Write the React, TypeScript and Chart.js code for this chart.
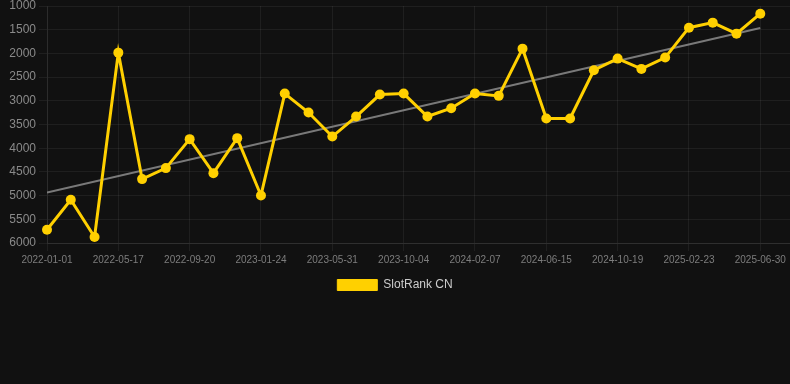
import React, { useEffect, useRef } from "react";
import { Chart, registerables } from "chart.js";

Chart.register(...registerables);

const dateLabels: string[] = [
  "2022-01-01", "2022-02-15", "2022-03-31", "2022-05-17", "2022-06-28", "2022-08-09",
  "2022-09-20", "2022-11-01", "2022-12-13", "2023-01-24", "2023-03-07", "2023-04-19",
  "2023-05-31", "2023-07-12", "2023-08-23", "2023-10-04", "2023-11-15", "2023-12-27",
  "2024-02-07", "2024-03-20", "2024-05-03", "2024-06-15", "2024-07-27", "2024-09-07",
  "2024-10-19", "2024-11-30", "2025-01-11", "2025-02-23", "2025-04-06", "2025-05-18",
  "2025-06-30",
];

const rankValues: number[] = [
  5720, 5088, 5874, 1984, 4652, 4420, 3809, 4526, 3788, 4997, 2847,
  3248, 3754, 3332, 2868, 2847, 3332, 3156, 2847, 2896, 1900, 3374,
  3374, 2355, 2110, 2327, 2088, 1457, 1351, 1583, 1162,
];

const trendStart = 4933;
const trendEnd = 1464;

const yTicksMin = 1000;
const yTicksMax = 6000;
const yStep = 500;
const labelEvery = 3;

const seriesName = "SlotRank CN";

export default function App() {
  const ref = useRef<HTMLCanvasElement | null>(null);

  useEffect(() => {
    document.documentElement.style.background = "#111111";
    document.body.style.margin = "0";
    document.body.style.background = "#111111";
    if (!ref.current) return;
    Chart.defaults.font.family = "'Liberation Sans', Arial, Helvetica, sans-serif";
    const lastIdx = rankValues.length - 1;
    const chart = new Chart(ref.current, {
      type: "line",
      data: {
        datasets: [
          {
            label: seriesName,
            data: rankValues.map((v, i) => ({ x: i, y: v })),
            borderColor: "#ffd000",
            backgroundColor: "#ffd000",
            borderWidth: 3,
            pointRadius: 5,
            pointHoverRadius: 5,
            pointBackgroundColor: "#ffd000",
            pointBorderColor: "#ffd000",
            pointBorderWidth: 0,
            tension: 0,
            clip: false,
            order: 1,
          },
          {
            label: "trend",
            data: [
              { x: 0, y: trendStart },
              { x: lastIdx, y: trendEnd },
            ],
            borderColor: "rgba(140,140,140,0.85)",
            backgroundColor: "rgba(140,140,140,0.85)",
            borderWidth: 2,
            pointRadius: 0,
            order: 2,
          },
        ],
      },
      options: {
        animation: false,
        responsive: false,
        devicePixelRatio: 1,
        layout: { padding: 0, autoPadding: false },
        scales: {
          x: {
            type: "linear",
            min: 0,
            max: 31.25,
            afterFit: (s: any) => {
              s.paddingRight = 0;
              s.paddingLeft = 0;
            },
            grid: { color: "rgba(255,255,255,0.06)", tickLength: 8 },
            border: { color: "rgba(255,255,255,0.08)" },
            ticks: {
              stepSize: labelEvery,
              includeBounds: false,
              autoSkip: false,
              maxRotation: 0,
              color: "#7d7d7d",
              font: { size: 10 },
              callback: (v: any) => {
                const n = Number(v);
                return Number.isInteger(n) && dateLabels[n] ? dateLabels[n] : "";
              },
            },
          },
          y: {
            reverse: true,
            min: yTicksMin,
            max: yTicksMax,
            afterFit: (s: any) => {
              s.width = 47;
              s.paddingTop = 6;
            },
            grid: { color: "rgba(255,255,255,0.06)", tickLength: 8 },
            border: { color: "rgba(255,255,255,0.06)" },
            ticks: {
              stepSize: yStep,
              color: "#8a8a8a",
              font: { size: 12 },
              callback: (v: any) => String(v),
            },
          },
        },
        plugins: {
          legend: {
            position: "bottom",
            labels: {
              color: "#cccccc",
              font: { size: 12 },
              boxWidth: 40,
              boxHeight: 11,
              filter: (item: any) => item.text === seriesName,
              generateLabels: (c: any) =>
                Chart.defaults.plugins.legend.labels
                  .generateLabels(c)
                  .map((it: any) => ({ ...it, lineWidth: 1 })),
            },
          },
          tooltip: { enabled: false },
        },
      },
    });
    return () => chart.destroy();
  }, []);

  return (
    <div style={{ width: 790, height: 301 }}>
      <canvas ref={ref} width={790} height={301} style={{ display: "block" }} />
    </div>
  );
}
